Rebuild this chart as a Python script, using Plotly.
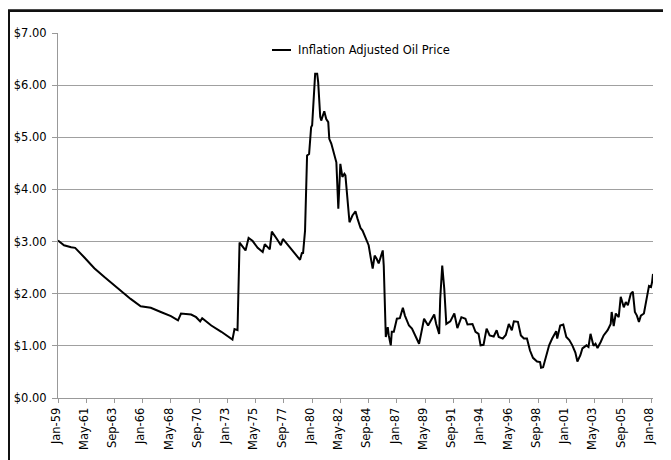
import plotly.graph_objects as go

# Monthly inflation-adjusted oil price
dates = [
    "1959-01-01", "1959-07-01", "1960-02-01", "1960-06-01", "1961-03-01", "1962-01-01",
    "1962-11-01", "1963-12-01", "1964-07-01", "1965-01-01", "1965-11-01", "1966-09-01",
    "1967-07-01", "1968-05-01", "1968-12-01", "1969-03-01", "1970-01-01", "1970-06-01",
    "1970-10-01", "1970-12-01", "1971-09-01", "1972-07-01", "1973-06-01", "1973-08-01",
    "1973-11-01", "1974-01-01", "1974-07-01", "1974-10-01", "1975-02-01", "1975-07-01",
    "1975-12-01", "1976-02-01", "1976-07-01", "1976-09-01", "1977-02-01", "1977-06-01",
    "1977-08-01", "1978-01-01", "1978-08-01", "1979-01-01", "1979-03-01", "1979-04-01",
    "1979-06-01", "1979-08-01", "1979-10-01", "1979-12-01", "1980-01-01", "1980-04-01",
    "1980-06-01", "1980-07-01", "1980-09-01", "1980-10-01", "1981-01-01", "1981-03-01",
    "1981-05-01", "1981-06-01", "1981-08-01", "1981-11-01", "1982-01-01", "1982-03-01",
    "1982-05-01", "1982-07-01", "1982-09-01", "1982-10-01", "1982-12-01", "1983-02-01",
    "1983-05-01", "1983-08-01", "1983-10-01", "1984-01-01", "1984-03-01", "1984-06-01",
    "1984-09-01", "1984-11-01", "1985-01-01", "1985-03-01", "1985-05-01", "1985-07-01",
    "1985-09-01", "1985-11-01", "1985-12-01", "1986-01-01", "1986-02-01", "1986-04-01",
    "1986-05-01", "1986-07-01", "1986-08-01", "1986-10-01", "1987-01-01", "1987-04-01",
    "1987-07-01", "1987-09-01", "1988-01-01", "1988-04-01", "1988-07-01", "1988-11-01",
    "1989-01-01", "1989-04-01", "1989-08-01", "1989-12-01", "1990-02-01", "1990-04-01",
    "1990-07-01", "1990-08-01", "1990-10-01", "1990-12-01", "1991-02-01", "1991-06-01",
    "1991-10-01", "1992-01-01", "1992-05-01", "1992-09-01", "1992-11-01", "1993-04-01",
    "1993-07-01", "1993-10-01", "1993-12-01", "1994-03-01", "1994-06-01", "1994-09-01",
    "1995-01-01", "1995-04-01", "1995-06-01", "1995-10-01", "1996-01-01", "1996-04-01",
    "1996-07-01", "1996-09-01", "1997-01-01", "1997-04-01", "1997-07-01", "1997-10-01",
    "1998-01-01", "1998-04-01", "1998-08-01", "1998-11-01", "1998-12-01", "1999-02-01",
    "1999-05-01", "1999-08-01", "1999-11-01", "2000-03-01", "2000-04-01", "2000-07-01",
    "2000-10-01", "2001-01-01", "2001-04-01", "2001-07-01", "2001-10-01", "2001-12-01",
    "2002-03-01", "2002-05-01", "2002-09-01", "2002-11-01", "2003-01-01", "2003-04-01",
    "2003-06-01", "2003-08-01", "2003-11-01", "2004-02-01", "2004-06-01", "2004-09-01",
    "2004-10-01", "2004-12-01", "2005-02-01", "2005-05-01", "2005-07-01", "2005-10-01",
    "2005-12-01", "2006-02-01", "2006-05-01", "2006-07-01", "2006-09-01", "2006-11-01",
    "2007-01-01", "2007-03-01", "2007-06-01", "2007-08-01", "2007-11-01", "2008-01-01",
    "2008-02-01", "2008-03-01",
]
prices = [
    3.02, 2.93, 2.89, 2.88, 2.70, 2.49,
    2.32, 2.11, 2.00, 1.90, 1.76, 1.73,
    1.65, 1.57, 1.49, 1.62, 1.60, 1.55,
    1.47, 1.53, 1.39, 1.27, 1.12, 1.32,
    1.30, 2.98, 2.83, 3.07, 3.01, 2.88,
    2.80, 2.95, 2.85, 3.19, 3.05, 2.93,
    3.05, 2.93, 2.77, 2.65, 2.79, 2.77,
    3.21, 4.65, 4.68, 5.19, 5.23, 6.22,
    6.22, 6.06, 5.39, 5.32, 5.50, 5.35,
    5.29, 4.97, 4.88, 4.65, 4.52, 3.63,
    4.49, 4.24, 4.30, 4.27, 3.82, 3.37,
    3.50, 3.58, 3.44, 3.26, 3.21, 3.05,
    2.93, 2.70, 2.48, 2.73, 2.67, 2.58,
    2.70, 2.83, 2.54, 1.71, 1.17, 1.36,
    1.20, 1.01, 1.27, 1.27, 1.52, 1.53,
    1.73, 1.58, 1.39, 1.33, 1.20, 1.04,
    1.23, 1.52, 1.39, 1.55, 1.60, 1.42,
    1.23, 1.90, 2.54, 2.10, 1.42, 1.47,
    1.62, 1.34, 1.55, 1.52, 1.41, 1.42,
    1.27, 1.23, 1.01, 1.02, 1.33, 1.20,
    1.18, 1.30, 1.17, 1.14, 1.21, 1.42,
    1.30, 1.47, 1.46, 1.20, 1.14, 1.14,
    0.91, 0.77, 0.70, 0.69, 0.58, 0.59,
    0.82, 1.01, 1.14, 1.28, 1.14, 1.39,
    1.41, 1.17, 1.11, 1.01, 0.87, 0.70,
    0.82, 0.95, 1.01, 0.98, 1.23, 1.00,
    1.04, 0.96, 1.07, 1.20, 1.30, 1.42,
    1.65, 1.38, 1.62, 1.55, 1.94, 1.74,
    1.84, 1.78, 2.00, 2.04, 1.65, 1.58,
    1.46, 1.58, 1.62, 1.81, 2.15, 2.13,
    2.22, 2.38,
]

tick_dates = [
    "1959-01-01", "1961-05-01", "1963-09-01", "1966-01-01", "1968-05-01", "1970-09-01",
    "1973-01-01", "1975-05-01", "1977-09-01", "1980-01-01", "1982-05-01", "1984-09-01",
    "1987-01-01", "1989-05-01", "1991-09-01", "1994-01-01", "1996-05-01", "1998-09-01",
    "2001-01-01", "2003-05-01", "2005-09-01", "2008-01-01",
]
tick_labels = [
    "Jan-59", "May-61", "Sep-63", "Jan-66", "May-68", "Sep-70",
    "Jan-73", "May-75", "Sep-77", "Jan-80", "May-82", "Sep-84",
    "Jan-87", "May-89", "Sep-91", "Jan-94", "May-96", "Sep-98",
    "Jan-01", "May-03", "Sep-05", "Jan-08",
]
y_ticks = [0, 1, 2, 3, 4, 5, 6, 7]
series_name = "Inflation Adjusted Oil Price"

FONT = "DejaVu Sans, Verdana, sans-serif"
# page body has an 8px margin, so the figure starts at page (8, 8)
OFF = 8
W, H = 671 - OFF, 460 - OFF
PL, PR, PT, PB = 58, 653, 33, 398          # plot area in page pixels
L, T = PL - OFF, PT - OFF
R, B = 671 - PR, 460 - PB
pw, ph = PR - PL, PB - PT


def px_x(px):
    return (px - PL) / pw


def px_y(py):
    return (PB - py) / ph


fig = go.Figure()
fig.add_trace(go.Scatter(
    x=dates, y=prices, mode="lines", name=series_name,
    line=dict(color="#000000", width=2), showlegend=False,
))

fig.update_layout(
    width=W, height=H,
    margin=dict(l=L, r=R, t=T, b=B, autoexpand=False),
    paper_bgcolor="white", plot_bgcolor="white",
    font=dict(family=FONT, size=11.5, color="#000000"),
    xaxis=dict(
        type="date", range=["1959-01-01", "2008-03-01"],
        tickmode="array", tickvals=tick_dates, ticktext=tick_labels,
        tickangle=-90, ticks="outside", ticklen=4, tickcolor="#999999",
        ticklabelshift=-2,
        showgrid=False, showline=True, linecolor="#999999", linewidth=1,
        tickfont=dict(family=FONT, size=11.5, color="#000000"),
        zeroline=False,
    ),
    yaxis=dict(
        range=[0, 7], tickmode="array", tickvals=y_ticks,
        tickformat="$.2f", ticks="outside", ticklen=5, tickcolor="#999999",
        ticklabelstandoff=3,
        showgrid=True, gridcolor="#a0a0a0", gridwidth=1,
        showline=True, linecolor="#999999", linewidth=1,
        tickfont=dict(family=FONT, size=11.5, color="#000000"),
        zeroline=False,
    ),
)

# Outer frame (cropped at right/bottom): top edge as filled thin rect, left edge as line
fig.add_shape(type="rect", xref="paper", yref="paper",
              x0=px_x(8), x1=px_x(671), y0=px_y(12), y1=px_y(9.5),
              fillcolor="#111111", line=dict(width=0))
fig.add_shape(type="line", xref="paper", yref="paper",
              x0=px_x(8), x1=px_x(671), y0=px_y(10.5), y1=px_y(10.5),
              line=dict(color="#111111", width=2))
fig.add_shape(type="line", xref="paper", yref="paper",
              x0=px_x(9), x1=px_x(9), y0=px_y(10), y1=px_y(460),
              line=dict(color="#111111", width=2))

# Legend (drawn manually to match short sample line)
fig.add_shape(type="line", xref="paper", yref="paper",
              x0=px_x(272), x1=px_x(291), y0=px_y(50), y1=px_y(50),
              line=dict(color="#000000", width=2))
fig.add_annotation(xref="paper", yref="paper", x=px_x(296), y=px_y(50),
                   xanchor="left", yanchor="middle", showarrow=False,
                   text=series_name, font=dict(family=FONT, size=11.5, color="#000000"))

fig.write_html("out.html")
